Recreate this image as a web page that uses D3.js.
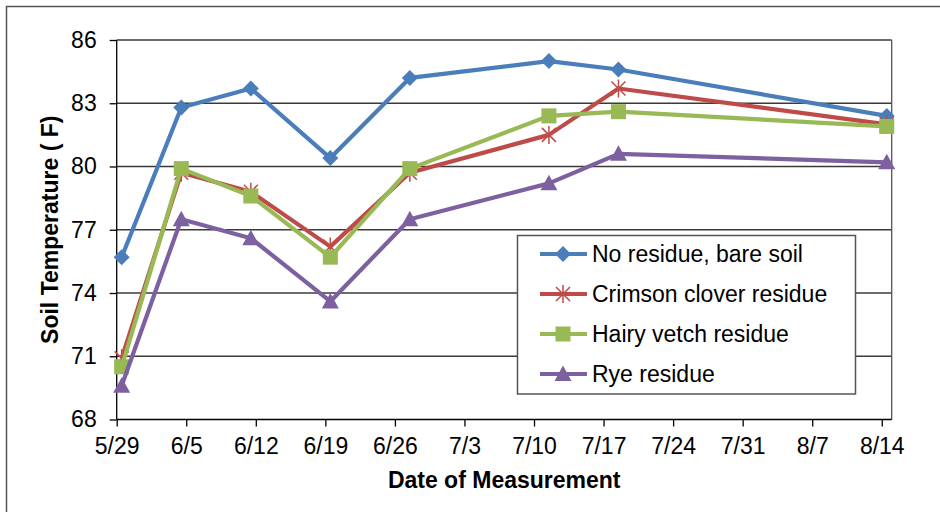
<!DOCTYPE html>
<html>
<head>
<meta charset="utf-8">
<script src="https://cdn.jsdelivr.net/npm/d3@7"></script>
<style>
  body { margin: 0; background: #fff; }
  text { font-family: Arial, "Liberation Sans", sans-serif; fill: #000; }
</style>
</head>
<body>
<script>
// measurement dates and soil temperatures (F)
var dates = ["5/29", "6/4", "6/11", "6/19", "6/27", "7/11", "7/18", "8/14"];
var noResidue = [75.7, 82.8, 83.7, 80.4, 84.2, 85.0, 84.6, 82.4];
var crimson = [70.9, 79.7, 78.8, 76.2, 79.7, 81.5, 83.7, 82.0];
var hairyVetch = [70.5, 79.9, 78.6, 75.7, 79.9, 82.4, 82.6, 81.9];
var rye = [69.6, 77.5, 76.6, 73.6, 77.5, 79.2, 80.6, 80.2];
var seriesNames = ["No residue, bare soil", "Crimson clover residue", "Hairy vetch residue", "Rye residue"];
var xTickLabels = ["5/29", "6/5", "6/12", "6/19", "6/26", "7/3", "7/10", "7/17", "7/24", "7/31", "8/7", "8/14"];
var yTicks = [68, 71, 74, 77, 80, 83, 86];

var colors = ["#4a7ebb", "#be4b48", "#98b954", "#7d60a0"];
var shapes = ["diamond", "star", "square", "triangle"];

function toDate(s) {
  var p = s.split("/");
  return new Date(Date.UTC(2011, +p[0] - 1, +p[1]));
}
function mid(s) { return new Date(toDate(s).getTime() + 12 * 3600 * 1000); }

var svg = d3.select("body").append("svg")
  .attr("width", 940)
  .attr("height", 512);

svg.append("rect")
  .attr("x", 6.5).attr("y", 6.5)
  .attr("width", 960).attr("height", 540)
  .attr("fill", "#fff")
  .attr("stroke", "#555")
  .attr("stroke-width", 1.5);

var pLeft = 116.7, pRight = 891.7, pTop = 40, pBottom = 419.5;

var x = d3.scaleUtc()
  .domain([toDate("5/29"), toDate("8/15")])
  .range([pLeft, pRight]);

var y = d3.scaleLinear()
  .domain([68, 86])
  .range([pBottom, pTop]);

var g = svg.append("g");

// gridlines
g.selectAll("line.grid")
  .data(yTicks.slice(1))
  .enter().append("line")
  .attr("class", "grid")
  .attr("x1", pLeft).attr("x2", pRight)
  .attr("y1", function (d) { return y(d); })
  .attr("y2", function (d) { return y(d); })
  .attr("stroke", "#3a3a3a")
  .attr("stroke-width", 1.3);

// right border of plot area
g.append("line")
  .attr("x1", pRight).attr("x2", pRight)
  .attr("y1", pTop).attr("y2", pBottom)
  .attr("stroke", "#555")
  .attr("stroke-width", 1.3);

// axes
var xAxis = g.append("g")
  .attr("transform", "translate(0," + pBottom + ")")
  .call(d3.axisBottom(x)
    .tickValues(xTickLabels.map(toDate))
    .tickSize(7)
    .tickFormat(function (d) { return (d.getUTCMonth() + 1) + "/" + d.getUTCDate(); }));
xAxis.select(".domain").attr("stroke", "#000").attr("stroke-width", 1.3).attr("d", "M" + pLeft + ",0H" + pRight);
xAxis.selectAll(".tick line").attr("stroke", "#000").attr("stroke-width", 1.3);
xAxis.selectAll(".tick text")
  .attr("y", 18)
  .attr("font-size", 23)
  .attr("font-family", "Arial, 'Liberation Sans', sans-serif");

var yAxis = g.append("g")
  .attr("transform", "translate(" + pLeft + ",0)")
  .call(d3.axisLeft(y).tickValues(yTicks).tickSize(7));
yAxis.select(".domain").attr("stroke", "#000").attr("stroke-width", 1.3).attr("d", "M0," + pTop + "V" + pBottom);
yAxis.selectAll(".tick line").attr("stroke", "#000").attr("stroke-width", 1.3);
yAxis.selectAll(".tick text")
  .attr("x", -20)
  .attr("font-size", 23)
  .attr("font-family", "Arial, 'Liberation Sans', sans-serif");

// axis titles
svg.append("text")
  .attr("x", (pLeft + pRight) / 2)
  .attr("y", 488)
  .attr("text-anchor", "middle")
  .attr("font-size", 23)
  .attr("font-weight", "bold")
  .text("Date of Measurement");

svg.append("text")
  .attr("transform", "translate(58," + ((pTop + pBottom) / 2) + ") rotate(-90)")
  .attr("text-anchor", "middle")
  .attr("font-size", 23)
  .attr("font-weight", "bold")
  .text("Soil Temperature ( F)");

// marker drawing
function marker(sel, shape, color) {
  if (shape === "diamond") {
    sel.append("path").attr("d", "M0,-8L8,0L0,8L-8,0Z").attr("fill", color);
  } else if (shape === "square") {
    sel.append("rect").attr("x", -7.5).attr("y", -7.5).attr("width", 15).attr("height", 15).attr("fill", color);
  } else if (shape === "triangle") {
    sel.append("path").attr("d", "M0,-8.5L8.5,7L-8.5,7Z").attr("fill", color);
  } else if (shape === "star") {
    sel.append("path").attr("d", "M-7,-7L7,7M-7,7L7,-7M0,-9V9")
      .attr("stroke", color).attr("stroke-width", 1.5).attr("fill", "none");
  }
}

var allSeries = [noResidue, crimson, hairyVetch, rye];
var line = d3.line()
  .x(function (d, i) { return x(mid(dates[i])); })
  .y(function (d) { return y(d); });

allSeries.forEach(function (vals, k) {
  var sg = svg.append("g");
  sg.append("path")
    .datum(vals)
    .attr("fill", "none")
    .attr("stroke", colors[k])
    .attr("stroke-width", 4.2)
    .attr("stroke-linejoin", "round")
    .attr("d", line);
  sg.selectAll("g.pt")
    .data(vals)
    .enter().append("g")
    .attr("class", "pt")
    .attr("transform", function (d, i) { return "translate(" + x(mid(dates[i])) + "," + y(d) + ")"; })
    .each(function () { marker(d3.select(this), shapes[k], colors[k]); });
});

// legend
var legend = svg.append("g");
legend.append("rect")
  .attr("x", 517.5).attr("y", 235.5)
  .attr("width", 338).attr("height", 158.5)
  .attr("fill", "#fff")
  .attr("stroke", "#555")
  .attr("stroke-width", 1.5);

var items = legend.selectAll("g.item")
  .data(seriesNames)
  .enter().append("g")
  .attr("class", "item")
  .attr("transform", function (d, i) { return "translate(563," + (254 + i * 40) + ")"; });

items.append("line")
  .attr("x1", -23).attr("x2", 24)
  .attr("stroke", function (d, i) { return colors[i]; })
  .attr("stroke-width", 4.2);
items.each(function (d, i) { marker(d3.select(this), shapes[i], colors[i]); });
items.append("text")
  .attr("x", 29)
  .attr("dy", "0.36em")
  .attr("font-size", 23)
  .text(function (d) { return d; });
</script>
</body>
</html>
